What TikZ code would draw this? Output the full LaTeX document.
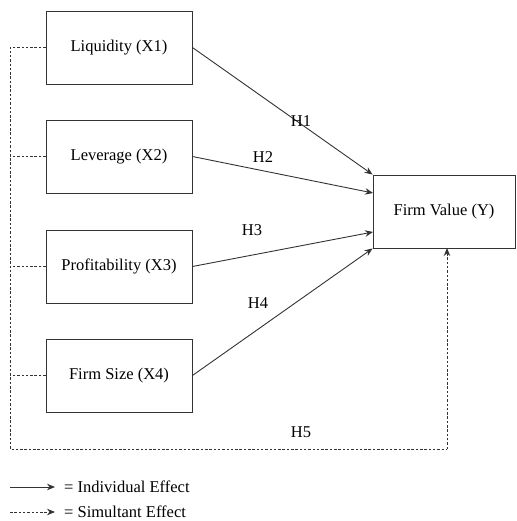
\documentclass[tikz,border=0pt]{standalone}
\usepackage{fontspec}
\setmainfont{Liberation Serif}
\usetikzlibrary{arrows.meta,calc}
\begin{document}
\begin{tikzpicture}[x=1pt,y=-1pt,
  linecol/.style={draw=black!80, line width=0.9pt},
  box/.style={linecol, rectangle, minimum width=146pt, minimum height=73pt, inner sep=0pt, font=\fontsize{16.5}{19}\selectfont},
  lbl/.style={inner sep=0pt, font=\fontsize{16.5}{19}\selectfont},
  indiv/.style={linecol, -{Stealth[length=8pt,width=6.5pt]}},
  simul/.style={linecol, dash pattern=on 2.5pt off 1.8pt},
  simularrow/.style={simul, -{Stealth[length=8pt,width=6.5pt]}}
]
\useasboundingbox (0,0) rectangle (516,521);
\node[box] (liq) at (119,47.5) {Liquidity (X1)};
\node[box] (lev) at (119,156.5) {Leverage (X2)};
\node[box] (pro) at (119,266.5) {Profitability (X3)};
\node[box] (siz) at (119,375.5) {Firm Size (X4)};
\node[box, minimum width=142pt] (fv) at (444,211.5) {Firm Value (Y)};

\coordinate (h2end) at (373,193);
\coordinate (h3end) at (373,232);
\draw[indiv] (liq.east) -- (fv.north west);
\draw[indiv] (lev.east) -- (h2end);
\draw[indiv] (pro.east) -- (h3end);
\draw[indiv] (siz.east) -- (fv.south west);

\node[lbl] (h1) at (301,121) {H1};
\node[lbl] (h2) at (263,157) {H2};
\node[lbl] (h3) at (252,230) {H3};
\node[lbl] (h4) at (258,303) {H4};
\node[lbl] (h5) at (301,432) {H5};

\coordinate (l1) at (10,47.5);
\coordinate (l2) at (10,156.5);
\coordinate (l3) at (10,266.5);
\coordinate (l4) at (10,375.5);
\coordinate (bl) at (10,449);
\coordinate (br) at (447,449);
\coordinate (fvb) at (447,248);
\draw[simul] (liq.west) -- (l1) -- (bl) -- (br);
\draw[simularrow] (br) -- (fvb);
\draw[simul] (lev.west) -- (l2);
\draw[simul] (pro.west) -- (l3);
\draw[simul] (siz.west) -- (l4);

\coordinate (a1s) at (10,487);
\coordinate (a1e) at (55,487);
\coordinate (a2s) at (10,512);
\coordinate (a2e) at (55,512);
\draw[indiv] (a1s) -- (a1e);
\draw[simularrow] (a2s) -- (a2e);
\node[lbl, anchor=west] (t1) at (64,487) {= Individual Effect};
\node[lbl, anchor=west] (t2) at (64,512) {= Simultant Effect};
\end{tikzpicture}
\end{document}
